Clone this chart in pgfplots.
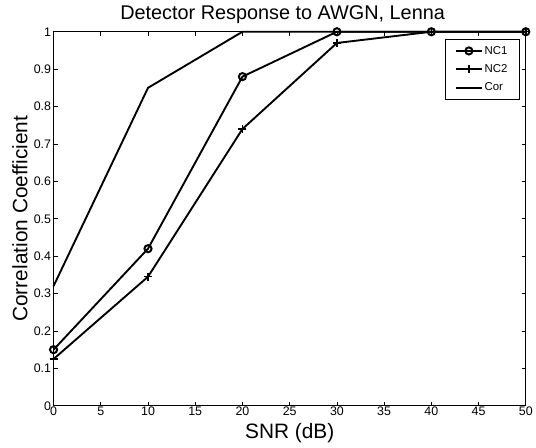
\documentclass[border=0pt]{standalone}
\usepackage{fontspec}
\setmainfont{Liberation Sans}
\usepackage{pgfplots}
\pgfplotsset{compat=1.18}

\begin{document}
\begin{tikzpicture}
\begin{axis}[
    scale only axis,
    width=476pt, height=377pt,
    xmin=0, xmax=50, ymin=0, ymax=1,
    xtick={0,5,...,50},
    ytick={0,0.1,...,1},
    yticklabels={0,0.1,0.2,0.3,0.4,0.5,0.6,0.7,0.8,0.9,1},
    tick align=inside,
    major tick length=4pt,
    tick style={black, thick},
    axis line style={thick},
    ticklabel style={font=\fontsize{12.5}{12.5}\selectfont},
    xticklabel style={yshift=2pt},
    yticklabel style={xshift=1pt},
    /pgf/number format/assume math mode=true,
    title={Detector Response to AWGN, Lenna},
    title style={font=\fontsize{20}{20}\selectfont,
        at={(axis description cs:0.485,1.016)}, anchor=base},
    xlabel={SNR (dB)},
    ylabel={Correlation Coefficient},
    label style={font=\fontsize{21}{21}\selectfont},
    xlabel style={at={(axis description cs:0.5,-0.074)}, anchor=center},
    ylabel style={at={(axis description cs:-0.071,0.5)}, anchor=center},
    legend style={font=\fontsize{11.5}{11.5}\selectfont, draw=black, thick,
        at={(0.987,0.981)}, anchor=north east, row sep=5pt,
        inner ysep=5pt, inner xsep=10pt},
    legend image code/.code={%
        \draw[mark repeat=2,mark phase=2] plot coordinates {(0cm,0cm)(0.45cm,0cm)(0.9cm,0cm)};},
    legend cell align=left,
    clip=false,
]
\addplot[black, line width=1.9pt, mark=o, mark size=3.6pt, mark options={line width=2pt}]
    coordinates {(0,0.15)(10,0.42)(20,0.88)(30,1.0)(40,1.0)(50,1.0)};
\addlegendentry{NC1}
\addplot[black, line width=1.9pt, mark=+, mark size=4pt, mark options={line width=1.5pt}]
    coordinates {(0,0.125)(10,0.345)(20,0.74)(30,0.97)(40,1.0)(50,1.0)};
\addlegendentry{NC2}
\addplot[black, line width=1.9pt]
    coordinates {(0,0.32)(10,0.85)(20,1.0)(30,1.0)(40,1.0)(50,1.0)};
\addlegendentry{Cor}
\path (axis description cs:-0.1134,-0.1114) rectangle (axis description cs:1.0126,1.0849);
\end{axis}
\end{tikzpicture}
\end{document}
